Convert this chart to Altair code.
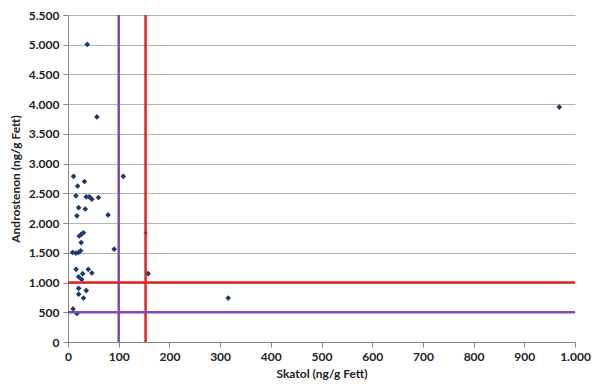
import altair as alt
import pandas as pd

skatol = [11, 32.5, 19, 109, 15.6, 36, 42, 47, 60, 21, 34, 17.6, 79, 30.5, 26, 22, 26,
          9, 15.6, 21, 25, 91, 16, 40, 47, 29, 21, 27, 158, 21, 36, 21, 30.5, 10, 17.6,
          57, 38, 316, 969]
androstenon = [2787, 2699, 2622, 2787, 2458, 2441, 2441, 2402, 2430, 2260, 2237, 2122, 2138,
               1837, 1809, 1783, 1672, 1507, 1496, 1507, 1535, 1562, 1222, 1222, 1161, 1150,
               1096, 1051, 1150, 903, 865, 804, 738, 557, 481, 3786, 5005, 738, 3951]

v_limits = [100, 153]
v_colors = ["#7A4CB8", "#E02424"]
h_limits = [500, 1000]
h_colors = ["#7A4CB8", "#E02424"]
cross_x = [153]
cross_y = [1837]

x_ticks = [0, 100, 200, 300, 400, 500, 600, 700, 800, 900, 1000]
y_ticks = [0, 500, 1000, 1500, 2000, 2500, 3000, 3500, 4000, 4500, 5000, 5500]

pts = pd.DataFrame({"Skatol": skatol, "Androstenon": androstenon})
vdf = pd.DataFrame({"Skatol": v_limits, "c": v_colors})
hdf = pd.DataFrame({"Androstenon": h_limits, "c": h_colors})
cdf = pd.DataFrame({"Skatol": cross_x, "Androstenon": cross_y})

FONT = "Lato"
lab = "replace(format(datum.value, ','), ',', '.')"

xscale = alt.Scale(domain=[0, 1000], nice=False)
yscale = alt.Scale(domain=[0, 5500], nice=False)

xaxis = alt.Axis(title="Skatol (ng/g Fett)", values=x_ticks,
                 labelExpr=lab, grid=False, tickSize=5, domainColor="#868686",
                 tickColor="#868686", labelPadding=4, titlePadding=6,
                 labelOverlap=False, labelFlush=False)
yaxis = alt.Axis(title="Androstenon (ng/g Fett)", values=y_ticks,
                 labelExpr=lab, grid=True, gridColor="#B4B4B4", tickSize=5,
                 domainColor="#868686", tickColor="#868686", labelPadding=4,
                 titlePadding=6, labelOverlap=False, labelFlush=False)

base = alt.Chart(pts).mark_point(shape="diamond", filled=True, size=32, color="#1B3A6E", opacity=1).encode(
    x=alt.X("Skatol:Q", scale=xscale, axis=xaxis),
    y=alt.Y("Androstenon:Q", scale=yscale, axis=yaxis),
)

vlines = alt.Chart(vdf).mark_rule(strokeWidth=2.5).encode(
    x=alt.X("Skatol:Q", scale=xscale, axis=xaxis),
    color=alt.Color("c:N", scale=None),
)
hlines = alt.Chart(hdf).mark_rule(strokeWidth=2.5).encode(
    y=alt.Y("Androstenon:Q", scale=yscale, axis=yaxis),
    color=alt.Color("c:N", scale=None),
)
cross = alt.Chart(cdf).mark_point(shape="cross", filled=True, size=14, color="#8B1A1A").encode(
    x=alt.X("Skatol:Q", scale=xscale, axis=xaxis),
    y=alt.Y("Androstenon:Q", scale=yscale, axis=yaxis),
)

chart = alt.layer(base, vlines, hlines, cross).properties(
    width=507, height=327,
    autosize=alt.AutoSizeParams(type="none"),
    padding={"left": 60, "top": 7, "right": 17, "bottom": 40},
    background="white",
).configure_view(stroke=None).configure_axis(
    labelFont=FONT, titleFont=FONT, labelFontSize=12, titleFontSize=12,
    labelFontWeight="bold", titleFontWeight="bold", labelColor="#222222", titleColor="#222222",
)

chart.save("out.html", embed_options={"renderer": "svg", "actions": False})
